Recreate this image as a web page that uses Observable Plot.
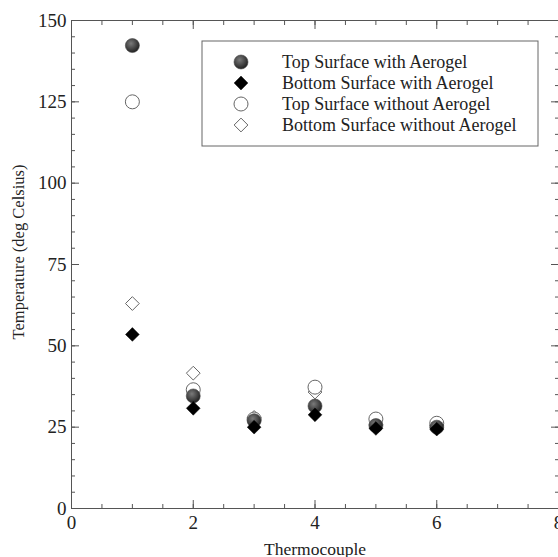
<!DOCTYPE html>
<html>
<head>
<meta charset="utf-8">
<script src="https://cdn.jsdelivr.net/npm/d3@7"></script>
<script src="https://cdn.jsdelivr.net/npm/@observablehq/plot@0.6"></script>
<style>
  html, body { margin: 0; padding: 0; background: #fff; }
  #chart { position: relative; width: 558px; height: 557px; }
</style>
</head>
<body>
<div id="chart"></div>
<script>
const thermocouple = [1, 2, 3, 4, 5, 6];
const topWith = [142.3, 34.6, 27, 31.5, 25.5, 25];
const bottomWith = [53.5, 30.8, 25, 28.8, 24.6, 24.4];
const topWithout = [125, 36.5, 27.5, 37.3, 27.5, 26.2];
const bottomWithout = [63, 41.6, 28, 35.8, 25.8, 25.6];
const seriesNames = [
  "Top Surface with Aerogel",
  "Bottom Surface with Aerogel",
  "Top Surface without Aerogel",
  "Bottom Surface without Aerogel"
];
const xTicks = [0, 2, 4, 6, 8];
const yTicks = [0, 25, 50, 75, 100, 125, 150];
const xTitle = "Thermocouple";
const yTitle = "Temperature (deg Celsius)";

const rows = (vals) => thermocouple.map((t, i) => ({t, v: vals[i]}));
const font = "'Liberation Serif', 'Times New Roman', serif";
const minorX = d3.range(0, 8.01, 0.5);
const minorY = d3.range(0, 150.1, 5);

const styles = {
  openDiamond: {symbol: "diamond2", r: 6.2, fill: "white", stroke: "#666", strokeWidth: 1},
  openCircle: {symbol: "circle", r: 7, fill: "white", stroke: "#666", strokeWidth: 1},
  grayCircle: {symbol: "circle", r: 7, fill: "url(#grayGrad)", stroke: "#444", strokeWidth: 0.6},
  blackDiamond: {symbol: "diamond2", r: 6.2, fill: "black", stroke: "black", strokeWidth: 0.5}
};

const plot = Plot.plot({
  width: 558,
  height: 557,
  marginLeft: 71,
  marginRight: 0,
  marginTop: 20,
  marginBottom: 49,
  style: {fontFamily: font, background: "white", overflow: "visible"},
  x: {domain: [0, 8], label: null},
  y: {domain: [0, 150], label: null},
  marks: [
    // frame lines (left, top, bottom)
    Plot.ruleX([0], {stroke: "#555", strokeWidth: 1}),
    Plot.ruleY([0, 150], {stroke: "#555", strokeWidth: 1}),
    // bottom ticks inward
    Plot.axisX(minorX, {anchor: "bottom", tickSize: -4, tickFormat: () => "", stroke: "#555", label: null}),
    Plot.axisX([2, 4, 6], {anchor: "bottom", tickSize: -8, tickFormat: () => "", stroke: "#555", label: null}),
    Plot.axisX(xTicks, {anchor: "bottom", tickSize: 0, tickPadding: 7, fontSize: 19, fill: "#222", label: xTitle, labelAnchor: "center", labelArrow: "none", labelOffset: 46}),
    // top ticks inward
    Plot.axisX(minorX, {anchor: "top", tickSize: -4, tickFormat: () => "", stroke: "#555", label: null}),
    Plot.axisX([2, 4, 6], {anchor: "top", tickSize: -8, tickFormat: () => "", stroke: "#555", label: null}),
    // left ticks inward
    Plot.axisY(minorY, {anchor: "left", tickSize: -4, tickFormat: () => "", stroke: "#555", label: null}),
    Plot.axisY(yTicks, {anchor: "left", tickSize: -8, tickFormat: () => "", stroke: "#555", label: null}),
    Plot.axisY(yTicks, {anchor: "left", tickSize: 0, tickPadding: 5, fontSize: 19, fill: "#222", label: null}),
    // right ticks inward
    Plot.axisY(minorY, {anchor: "right", tickSize: -4, tickFormat: () => "", stroke: "#555", label: null}),
    Plot.axisY(yTicks, {anchor: "right", tickSize: -8, tickFormat: () => "", stroke: "#555", label: null}),
    // data
    Plot.dot(rows(bottomWithout), {x: "t", y: "v", ...styles.openDiamond}),
    Plot.dot(rows(topWithout), {x: "t", y: "v", ...styles.openCircle}),
    Plot.dot(rows(topWith), {x: "t", y: "v", ...styles.grayCircle}),
    Plot.dot(rows(bottomWith), {x: "t", y: "v", ...styles.blackDiamond})
  ]
});

const svg = d3.select(plot);
// gradient for gray circles
const defs = svg.insert("defs", ":first-child");
const grad = defs.append("radialGradient").attr("id", "grayGrad")
  .attr("cx", "40%").attr("cy", "35%").attr("r", "65%");
grad.append("stop").attr("offset", "0%").attr("stop-color", "#7a7a7a");
grad.append("stop").attr("offset", "100%").attr("stop-color", "#222");

// axis label styling
svg.selectAll("[aria-label='x-axis label'] text")
  .style("font-size", "17.5px").attr("fill", "#222");

// y title
svg.append("text")
  .attr("transform", "translate(24,252) rotate(-90)")
  .attr("text-anchor", "middle")
  .style("font-family", font).style("font-size", "16.5px").attr("fill", "#222")
  .text(yTitle);

// legend
const lg = svg.append("g").attr("class", "legend").attr("text-anchor", "start");
lg.append("rect").attr("x", 202).attr("y", 41).attr("width", 336).attr("height", 105)
  .attr("fill", "white").attr("stroke", "#666").attr("stroke-width", 1);
const order = ["grayCircle", "blackDiamond", "openCircle", "openDiamond"];
order.forEach((k, i) => {
  const s = styles[k];
  const cy = 62 + i * 21;
  const sym = s.symbol === "circle" ? d3.symbolCircle : d3.symbolDiamond2;
  lg.append("path")
    .attr("d", d3.symbol(sym, Math.PI * s.r * s.r)())
    .attr("transform", `translate(241,${cy})`)
    .attr("fill", s.fill).attr("stroke", s.stroke).attr("stroke-width", s.strokeWidth);
  lg.append("text").attr("x", 282).attr("y", cy).attr("dy", "0.35em")
    .attr("text-anchor", "start")
    .style("font-family", font).style("font-size", "18px").attr("fill", "#222")
    .text(seriesNames[i]);
});

document.getElementById("chart").appendChild(plot);
</script>
</body>
</html>
